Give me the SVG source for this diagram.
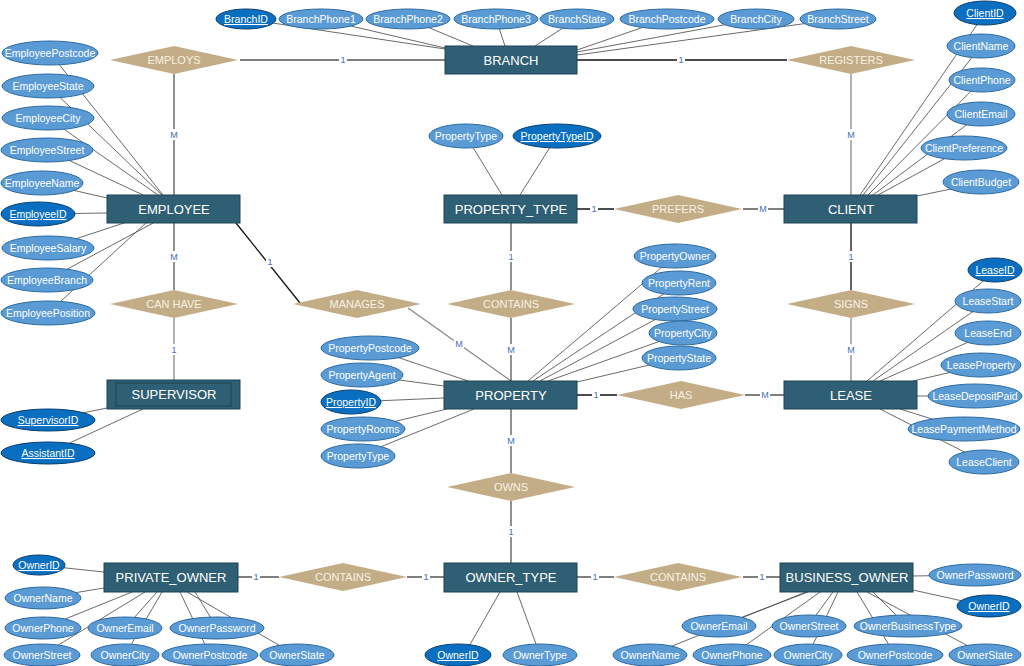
<svg xmlns="http://www.w3.org/2000/svg" width="1024" height="666" viewBox="0 0 1024 666">
<style>
.ent rect{fill:#2f5f74;stroke:#1e4253;stroke-width:1}
.ent text{fill:#fff;font:13px "Liberation Sans",Arial,sans-serif;text-anchor:middle}
.rel polygon{fill:#c3ad87}
.rel text{fill:#f7f1e4;font:11px "Liberation Sans",Arial,sans-serif;text-anchor:middle}
.att ellipse{fill:#5b9bd5;stroke:#2c6aa0;stroke-width:1}
.att text{fill:#fff;font:10.5px "Liberation Sans",Arial,sans-serif;text-anchor:middle}
.key ellipse{fill:#0a6fc0;stroke:#0b3f6e;stroke-width:1}
.key text{fill:#fff;font:10.5px "Liberation Sans",Arial,sans-serif;text-anchor:middle;text-decoration:underline}
.al line{stroke:#444;stroke-width:0.8}
.rl line{stroke:#555;stroke-width:1.3}
.rl line.g{stroke:#888}
.rl line.k{stroke:#111}
.card rect{fill:#fff}
.card text{fill:#3d6fb5;font:9px "Liberation Sans",Arial,sans-serif;text-anchor:middle}
</style>

<g id="connectors">
<g class="al">
<!-- BRANCH -->
<line x1="246" y1="19" x2="445" y2="49"/>
<line x1="321" y1="19" x2="445" y2="48"/>
<line x1="408" y1="19" x2="473" y2="46"/>
<line x1="496" y1="19" x2="505" y2="46"/>
<line x1="577" y1="19" x2="535" y2="46"/>
<line x1="667" y1="19" x2="577" y2="50"/>
<line x1="756" y1="19" x2="577" y2="52"/>
<line x1="838" y1="19" x2="577" y2="55"/>
<!-- EMPLOYEE -->
<line x1="50" y1="53" x2="163" y2="195"/>
<line x1="48" y1="86" x2="162" y2="195"/>
<line x1="48" y1="118" x2="158" y2="195"/>
<line x1="47" y1="150" x2="143" y2="195"/>
<line x1="42" y1="183" x2="107" y2="198"/>
<line x1="38" y1="214" x2="107" y2="213"/>
<line x1="48" y1="248" x2="127" y2="222"/>
<line x1="47" y1="280" x2="155" y2="222"/>
<line x1="48" y1="313" x2="147" y2="222"/>
<!-- CLIENT -->
<line x1="985" y1="13" x2="860" y2="195"/>
<line x1="981" y1="46" x2="863" y2="195"/>
<line x1="982" y1="80" x2="868" y2="195"/>
<line x1="981" y1="114" x2="873" y2="195"/>
<line x1="964" y1="148" x2="878" y2="195"/>
<line x1="985" y1="182" x2="917" y2="196"/>
<!-- PROPERTY_TYPE -->
<line x1="466" y1="136" x2="502" y2="195"/>
<line x1="557" y1="136" x2="520" y2="195"/>
<!-- PROPERTY -->
<line x1="370" y1="348" x2="468" y2="381"/>
<line x1="362" y1="375" x2="444" y2="386"/>
<line x1="351" y1="402" x2="444" y2="398"/>
<line x1="363" y1="429" x2="447" y2="409"/>
<line x1="358" y1="456" x2="474" y2="409"/>
<line x1="675" y1="256" x2="528" y2="381"/>
<line x1="680" y1="283" x2="533" y2="381"/>
<line x1="675" y1="309" x2="540" y2="381"/>
<line x1="683" y1="333" x2="548" y2="381"/>
<line x1="679" y1="358" x2="577" y2="382"/>
<!-- LEASE -->
<line x1="996" y1="270" x2="867" y2="381"/>
<line x1="988" y1="301" x2="873" y2="381"/>
<line x1="989" y1="333" x2="880" y2="381"/>
<line x1="982" y1="365" x2="913" y2="381"/>
<line x1="975" y1="396" x2="917" y2="396"/>
<line x1="964" y1="429" x2="900" y2="409"/>
<line x1="984" y1="462" x2="880" y2="409"/>
<!-- SUPERVISOR -->
<line x1="48" y1="420" x2="107" y2="408"/>
<line x1="48" y1="453" x2="143" y2="409"/>
<!-- PRIVATE_OWNER -->
<line x1="38" y1="565" x2="104" y2="572"/>
<line x1="43" y1="598" x2="104" y2="588"/>
<line x1="43" y1="628" x2="132" y2="592"/>
<line x1="42" y1="655" x2="145" y2="592"/>
<line x1="125" y1="628" x2="157" y2="592"/>
<line x1="125" y1="655" x2="162" y2="592"/>
<line x1="217" y1="628" x2="195" y2="592"/>
<line x1="210" y1="655" x2="180" y2="592"/>
<line x1="296" y1="655" x2="187" y2="592"/>
<!-- OWNER_TYPE -->
<line x1="464" y1="655" x2="500" y2="592"/>
<line x1="540" y1="655" x2="517" y2="592"/>
<!-- BUSINESS_OWNER -->
<line x1="975" y1="575" x2="913" y2="576"/>
<line x1="985" y1="606" x2="913" y2="590"/>
<line x1="719" y1="626" x2="808" y2="592"/>
<line x1="650" y1="655" x2="806" y2="592"/>
<line x1="732" y1="655" x2="820" y2="592"/>
<line x1="808" y1="626" x2="833" y2="592"/>
<line x1="808" y1="655" x2="838" y2="592"/>
<line x1="907" y1="626" x2="873" y2="592"/>
<line x1="895" y1="655" x2="857" y2="592"/>
<line x1="985" y1="655" x2="867" y2="592"/>
</g>
<g class="rl">
<line x1="240" y1="60" x2="445" y2="60"/>
<line class="k" x1="577" y1="60" x2="787" y2="60"/>
<line x1="174" y1="74" x2="174" y2="195"/>
<line class="g" x1="851" y1="74" x2="851" y2="195"/>
<line x1="174" y1="223" x2="174" y2="290"/>
<line class="g" x1="174" y1="318" x2="174" y2="380"/>
<line class="k" x1="236" y1="223" x2="300" y2="303"/>
<line class="g" x1="408" y1="308" x2="511" y2="381"/>
<line x1="511" y1="223" x2="511" y2="290"/>
<line x1="511" y1="318" x2="511" y2="381"/>
<line class="k" x1="577" y1="209" x2="614" y2="209"/>
<line x1="743" y1="209" x2="784" y2="209"/>
<line class="k" x1="851" y1="223" x2="851" y2="290"/>
<line class="g" x1="851" y1="318" x2="851" y2="381"/>
<line class="k" x1="577" y1="395" x2="617" y2="395"/>
<line x1="745" y1="395" x2="784" y2="395"/>
<line x1="511" y1="409" x2="511" y2="473"/>
<line x1="511" y1="501" x2="511" y2="563"/>
<line x1="238" y1="577" x2="279" y2="577"/>
<line x1="407" y1="577" x2="444" y2="577"/>
<line x1="577" y1="577" x2="614" y2="577"/>
<line x1="743" y1="577" x2="780" y2="577"/>
</g>
<g class="card">
<rect x="339" y="54" width="8" height="11"/><text x="343" y="63">1</text>
<rect x="677" y="54" width="8" height="11"/><text x="681" y="63">1</text>
<rect x="169" y="129" width="10" height="11"/><text x="174" y="138">M</text>
<rect x="846" y="129" width="10" height="11"/><text x="851" y="138">M</text>
<rect x="169" y="251" width="10" height="11"/><text x="174" y="260">M</text>
<rect x="170" y="344" width="8" height="11"/><text x="174" y="353">1</text>
<rect x="266" y="256" width="8" height="11"/><text x="270" y="265">1</text>
<rect x="454" y="338" width="10" height="11"/><text x="459" y="347">M</text>
<rect x="507" y="251" width="8" height="11"/><text x="511" y="260">1</text>
<rect x="506" y="344" width="10" height="11"/><text x="511" y="353">M</text>
<rect x="590" y="203" width="8" height="11"/><text x="594" y="212">1</text>
<rect x="758" y="203" width="10" height="11"/><text x="763" y="212">M</text>
<rect x="847" y="251" width="8" height="11"/><text x="851" y="260">1</text>
<rect x="846" y="344" width="10" height="11"/><text x="851" y="353">M</text>
<rect x="592" y="389" width="8" height="11"/><text x="596" y="398">1</text>
<rect x="760" y="389" width="10" height="11"/><text x="765" y="398">M</text>
<rect x="506" y="435" width="10" height="11"/><text x="511" y="444">M</text>
<rect x="507" y="526" width="8" height="11"/><text x="511" y="535">1</text>
<rect x="252" y="571" width="8" height="11"/><text x="256" y="580">1</text>
<rect x="422" y="571" width="8" height="11"/><text x="426" y="580">1</text>
<rect x="591" y="571" width="8" height="11"/><text x="595" y="580">1</text>
<rect x="758" y="571" width="8" height="11"/><text x="762" y="580">1</text>
</g>
</g>

<!-- Relationships -->
<g id="rel-employs" class="rel"><polygon points="110,60 174,46 238,60 174,74"/><text x="174" y="64">EMPLOYS</text></g>
<g id="rel-registers" class="rel"><polygon points="787,60 851,46 915,60 851,74"/><text x="851" y="64">REGISTERS</text></g>
<g id="rel-canhave" class="rel"><polygon points="110,304 174,290 238,304 174,318"/><text x="174" y="308">CAN HAVE</text></g>
<g id="rel-manages" class="rel"><polygon points="293,304 357,290 421,304 357,318"/><text x="357" y="308">MANAGES</text></g>
<g id="rel-contains1" class="rel"><polygon points="447,304 511,290 575,304 511,318"/><text x="511" y="308">CONTAINS</text></g>
<g id="rel-signs" class="rel"><polygon points="787,304 851,290 915,304 851,318"/><text x="851" y="308">SIGNS</text></g>
<g id="rel-prefers" class="rel"><polygon points="614,209 678,195 742,209 678,223"/><text x="678" y="213">PREFERS</text></g>
<g id="rel-has" class="rel"><polygon points="617,395 681,381 745,395 681,409"/><text x="681" y="399">HAS</text></g>
<g id="rel-owns" class="rel"><polygon points="447,487 511,473 575,487 511,501"/><text x="511" y="491">OWNS</text></g>
<g id="rel-contains2" class="rel"><polygon points="279,577 343,563 407,577 343,591"/><text x="343" y="581">CONTAINS</text></g>
<g id="rel-contains3" class="rel"><polygon points="614,577 678,563 742,577 678,591"/><text x="678" y="581">CONTAINS</text></g>

<!-- Entities -->
<g id="ent-branch" class="ent"><rect x="445" y="46" width="132" height="28"/><text x="511" y="65">BRANCH</text></g>
<g id="ent-employee" class="ent"><rect x="107" y="195" width="133" height="28"/><text x="174" y="214">EMPLOYEE</text></g>
<g id="ent-property-type" class="ent"><rect x="444" y="195" width="133" height="28"/><text x="511" y="214">PROPERTY_TYPE</text></g>
<g id="ent-client" class="ent"><rect x="784" y="195" width="133" height="28"/><text x="851" y="214">CLIENT</text></g>
<g id="ent-supervisor" class="ent"><rect x="107" y="380" width="133" height="29"/><rect x="116" y="383" width="115" height="23"/><text x="174" y="399">SUPERVISOR</text></g>
<g id="ent-property" class="ent"><rect x="444" y="381" width="133" height="28"/><text x="511" y="400">PROPERTY</text></g>
<g id="ent-lease" class="ent"><rect x="784" y="381" width="133" height="28"/><text x="851" y="400">LEASE</text></g>
<g id="ent-private-owner" class="ent"><rect x="104" y="563" width="134" height="29"/><text x="171" y="582">PRIVATE_OWNER</text></g>
<g id="ent-owner-type" class="ent"><rect x="444" y="563" width="133" height="29"/><text x="511" y="582">OWNER_TYPE</text></g>
<g id="ent-business-owner" class="ent"><rect x="780" y="563" width="133" height="29"/><text x="847" y="582">BUSINESS_OWNER</text></g>

<!-- Attributes: BRANCH -->
<g id="a-branchid" class="key"><ellipse cx="246" cy="19" rx="30" ry="10"/><text x="246" y="23">BranchID</text></g>
<g id="a-branchphone1" class="att"><ellipse cx="321" cy="19" rx="42" ry="10"/><text x="321" y="23">BranchPhone1</text></g>
<g id="a-branchphone2" class="att"><ellipse cx="408" cy="19" rx="42" ry="10"/><text x="408" y="23">BranchPhone2</text></g>
<g id="a-branchphone3" class="att"><ellipse cx="496" cy="19" rx="42" ry="10"/><text x="496" y="23">BranchPhone3</text></g>
<g id="a-branchstate" class="att"><ellipse cx="577" cy="19" rx="37" ry="10"/><text x="577" y="23">BranchState</text></g>
<g id="a-branchpostcode" class="att"><ellipse cx="667" cy="19" rx="47" ry="10"/><text x="667" y="23">BranchPostcode</text></g>
<g id="a-branchcity" class="att"><ellipse cx="756" cy="19" rx="38" ry="10"/><text x="756" y="23">BranchCity</text></g>
<g id="a-branchstreet" class="att"><ellipse cx="838" cy="19" rx="38" ry="10"/><text x="838" y="23">BranchStreet</text></g>

<!-- EMPLOYEE -->
<g id="a-emppostcode" class="att"><ellipse cx="50" cy="53" rx="48" ry="12"/><text x="50" y="57">EmployeePostcode</text></g>
<g id="a-empstate" class="att"><ellipse cx="48" cy="86" rx="46" ry="12"/><text x="48" y="90">EmployeeState</text></g>
<g id="a-empcity" class="att"><ellipse cx="48" cy="118" rx="46" ry="12"/><text x="48" y="122">EmployeeCity</text></g>
<g id="a-empstreet" class="att"><ellipse cx="47" cy="150" rx="46" ry="12"/><text x="47" y="154">EmployeeStreet</text></g>
<g id="a-empname" class="att"><ellipse cx="42" cy="183" rx="41" ry="12"/><text x="42" y="187">EmployeeName</text></g>
<g id="a-empid" class="key"><ellipse cx="38" cy="214" rx="37" ry="12"/><text x="38" y="218">EmployeeID</text></g>
<g id="a-empsalary" class="att"><ellipse cx="48" cy="248" rx="46" ry="12"/><text x="48" y="252">EmployeeSalary</text></g>
<g id="a-empbranch" class="att"><ellipse cx="47" cy="280" rx="46" ry="12"/><text x="47" y="284">EmployeeBranch</text></g>
<g id="a-empposition" class="att"><ellipse cx="48" cy="313" rx="47" ry="12"/><text x="48" y="317">EmployeePosition</text></g>

<!-- CLIENT -->
<g id="a-clientid" class="key"><ellipse cx="985" cy="13" rx="31" ry="12"/><text x="985" y="17">ClientID</text></g>
<g id="a-clientname" class="att"><ellipse cx="981" cy="46" rx="34" ry="12"/><text x="981" y="50">ClientName</text></g>
<g id="a-clientphone" class="att"><ellipse cx="982" cy="80" rx="33" ry="12"/><text x="982" y="84">ClientPhone</text></g>
<g id="a-clientemail" class="att"><ellipse cx="981" cy="114" rx="34" ry="12"/><text x="981" y="118">ClientEmail</text></g>
<g id="a-clientpref" class="att"><ellipse cx="964" cy="148" rx="43" ry="12"/><text x="964" y="152">ClientPreference</text></g>
<g id="a-clientbudget" class="att"><ellipse cx="981" cy="182" rx="38" ry="12"/><text x="981" y="186">ClientBudget</text></g>

<!-- PROPERTY_TYPE -->
<g id="a-pt-type" class="att"><ellipse cx="466" cy="136" rx="37" ry="12"/><text x="466" y="140">PropertyType</text></g>
<g id="a-pt-id" class="key"><ellipse cx="557" cy="136" rx="44" ry="12"/><text x="557" y="140">PropertyTypeID</text></g>

<!-- PROPERTY -->
<g id="a-ppostcode" class="att"><ellipse cx="370" cy="348" rx="49" ry="12"/><text x="370" y="352">PropertyPostcode</text></g>
<g id="a-pagent" class="att"><ellipse cx="362" cy="375" rx="41" ry="12"/><text x="362" y="379">PropertyAgent</text></g>
<g id="a-pid" class="key"><ellipse cx="351" cy="402" rx="30" ry="12"/><text x="351" y="406">PropertyID</text></g>
<g id="a-prooms" class="att"><ellipse cx="363" cy="429" rx="42" ry="12"/><text x="363" y="433">PropertyRooms</text></g>
<g id="a-ptype" class="att"><ellipse cx="358" cy="456" rx="37" ry="12"/><text x="358" y="460">PropertyType</text></g>
<g id="a-powner" class="att"><ellipse cx="675" cy="256" rx="41" ry="12"/><text x="675" y="260">PropertyOwner</text></g>
<g id="a-prent" class="att"><ellipse cx="679" cy="283" rx="37" ry="12"/><text x="679" y="287">PropertyRent</text></g>
<g id="a-pstreet" class="att"><ellipse cx="675" cy="309" rx="42" ry="12"/><text x="675" y="313">PropertyStreet</text></g>
<g id="a-pcity" class="att"><ellipse cx="683" cy="333" rx="34" ry="12"/><text x="683" y="337">PropertyCity</text></g>
<g id="a-pstate" class="att"><ellipse cx="679" cy="358" rx="37" ry="12"/><text x="679" y="362">PropertyState</text></g>

<!-- LEASE -->
<g id="a-leaseid" class="key"><ellipse cx="995" cy="270" rx="27" ry="12"/><text x="995" y="274">LeaseID</text></g>
<g id="a-leasestart" class="att"><ellipse cx="988" cy="301" rx="33" ry="12"/><text x="988" y="305">LeaseStart</text></g>
<g id="a-leaseend" class="att"><ellipse cx="988" cy="333" rx="33" ry="12"/><text x="988" y="337">LeaseEnd</text></g>
<g id="a-leaseprop" class="att"><ellipse cx="981" cy="365" rx="40" ry="12"/><text x="981" y="369">LeaseProperty</text></g>
<g id="a-leasedep" class="att"><ellipse cx="975" cy="396" rx="47" ry="12"/><text x="975" y="400">LeaseDepositPaid</text></g>
<g id="a-leasepay" class="att"><ellipse cx="964" cy="429" rx="56" ry="12"/><text x="964" y="433">LeasePaymentMethod</text></g>
<g id="a-leaseclient" class="att"><ellipse cx="984" cy="462" rx="35" ry="12"/><text x="984" y="466">LeaseClient</text></g>

<!-- SUPERVISOR -->
<g id="a-supid" class="key"><ellipse cx="48" cy="420" rx="47" ry="11"/><text x="48" y="424">SupervisorID</text></g>
<g id="a-asstid" class="key"><ellipse cx="48" cy="453" rx="47" ry="11"/><text x="48" y="457">AssistantID</text></g>

<!-- PRIVATE_OWNER -->
<g id="a-po-id" class="key"><ellipse cx="39" cy="565" rx="26" ry="10"/><text x="39" y="569">OwnerID</text></g>
<g id="a-po-name" class="att"><ellipse cx="43" cy="598" rx="38" ry="11"/><text x="43" y="602">OwnerName</text></g>
<g id="a-po-phone" class="att"><ellipse cx="43" cy="628" rx="38" ry="11"/><text x="43" y="632">OwnerPhone</text></g>
<g id="a-po-email" class="att"><ellipse cx="125" cy="628" rx="37" ry="11"/><text x="125" y="632">OwnerEmail</text></g>
<g id="a-po-pass" class="att"><ellipse cx="217" cy="628" rx="47" ry="11"/><text x="217" y="632">OwnerPassword</text></g>
<g id="a-po-street" class="att"><ellipse cx="42" cy="655" rx="38" ry="11"/><text x="42" y="659">OwnerStreet</text></g>
<g id="a-po-city" class="att"><ellipse cx="125" cy="655" rx="34" ry="11"/><text x="125" y="659">OwnerCity</text></g>
<g id="a-po-postcode" class="att"><ellipse cx="210" cy="655" rx="48" ry="11"/><text x="210" y="659">OwnerPostcode</text></g>
<g id="a-po-state" class="att"><ellipse cx="297" cy="655" rx="37" ry="11"/><text x="297" y="659">OwnerState</text></g>

<!-- OWNER_TYPE -->
<g id="a-ot-id" class="key"><ellipse cx="458" cy="655" rx="33" ry="11"/><text x="458" y="659">OwnerID</text></g>
<g id="a-ot-type" class="att"><ellipse cx="540" cy="655" rx="37" ry="11"/><text x="540" y="659">OwnerType</text></g>

<!-- BUSINESS_OWNER -->
<g id="a-bo-pass" class="att"><ellipse cx="975" cy="575" rx="46" ry="11"/><text x="975" y="579">OwnerPassword</text></g>
<g id="a-bo-id" class="key"><ellipse cx="989" cy="606" rx="32" ry="11"/><text x="989" y="610">OwnerID</text></g>
<g id="a-bo-email" class="att"><ellipse cx="719" cy="626" rx="37" ry="11"/><text x="719" y="630">OwnerEmail</text></g>
<g id="a-bo-street" class="att"><ellipse cx="809" cy="626" rx="37" ry="11"/><text x="809" y="630">OwnerStreet</text></g>
<g id="a-bo-btype" class="att"><ellipse cx="908" cy="626" rx="54" ry="11"/><text x="908" y="630">OwnerBusinessType</text></g>
<g id="a-bo-name" class="att"><ellipse cx="650" cy="655" rx="37" ry="11"/><text x="650" y="659">OwnerName</text></g>
<g id="a-bo-phone" class="att"><ellipse cx="732" cy="655" rx="39" ry="11"/><text x="732" y="659">OwnerPhone</text></g>
<g id="a-bo-city" class="att"><ellipse cx="808" cy="655" rx="34" ry="11"/><text x="808" y="659">OwnerCity</text></g>
<g id="a-bo-postcode" class="att"><ellipse cx="895" cy="655" rx="48" ry="11"/><text x="895" y="659">OwnerPostcode</text></g>
<g id="a-bo-state" class="att"><ellipse cx="985" cy="655" rx="36" ry="11"/><text x="985" y="659">OwnerState</text></g>
</svg>
